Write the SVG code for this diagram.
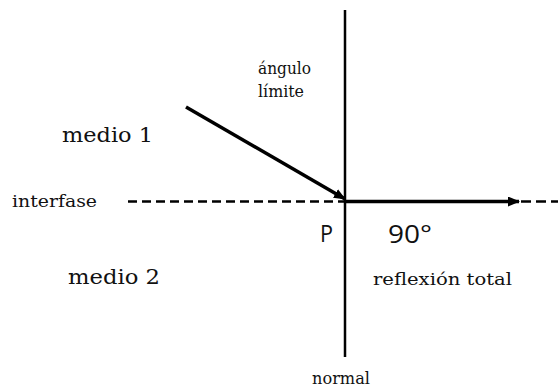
<svg xmlns="http://www.w3.org/2000/svg" width="558" height="387" viewBox="0 0 558 387">
<style>
.s{font-family:"DejaVu Serif","Liberation Serif",serif;fill:#111}
.a{font-family:"Open Sans","DejaVu Sans",sans-serif;fill:#111}
.ln{stroke:#000;fill:none}
</style>
<defs>
<marker id="ah" markerWidth="12" markerHeight="10" refX="11" refY="5" orient="auto" markerUnits="userSpaceOnUse"><path d="M0,0 L12,5 L0,10 Z" fill="#000"/></marker>
</defs>
<rect width="558" height="387" fill="#fff"/>
<g id="connectors">
<line class="ln" x1="128" y1="201.5" x2="345" y2="201.5" stroke-width="2.5" stroke-dasharray="9,5"/>
<line class="ln" x1="521" y1="201.5" x2="558" y2="201.5" stroke-width="2.5" stroke-dasharray="10,5"/>
<line class="ln" x1="345" y1="10" x2="345" y2="357" stroke-width="2.5"/>
<line class="ln" x1="186" y1="107" x2="345" y2="199" stroke-width="3.5" marker-end="url(#ah)"/>
<line class="ln" x1="345" y1="201.5" x2="519" y2="201.5" stroke-width="3.5" marker-end="url(#ah)"/>
</g>
<g id="labels">
<text class="s" x="258" y="74" font-size="16" textLength="53" lengthAdjust="spacingAndGlyphs">ángulo</text>
<text class="s" x="258" y="97" font-size="16" textLength="46" lengthAdjust="spacingAndGlyphs">límite</text>
<text class="s" x="62" y="142" font-size="21" textLength="91" lengthAdjust="spacingAndGlyphs">medio 1</text>
<text class="s" x="12" y="207" font-size="17" textLength="85" lengthAdjust="spacingAndGlyphs">interfase</text>
<text class="a" x="320" y="242" font-size="24" textLength="13" lengthAdjust="spacingAndGlyphs">P</text>
<text class="a" x="388" y="243" font-size="25" textLength="44" lengthAdjust="spacingAndGlyphs">90°</text>
<text class="s" x="68" y="284" font-size="21" textLength="92" lengthAdjust="spacingAndGlyphs">medio 2</text>
<text class="s" x="373" y="285" font-size="17" textLength="139" lengthAdjust="spacingAndGlyphs">reflexión total</text>
<text class="s" x="312" y="384" font-size="16" textLength="58" lengthAdjust="spacingAndGlyphs">normal</text>
</g>
</svg>
